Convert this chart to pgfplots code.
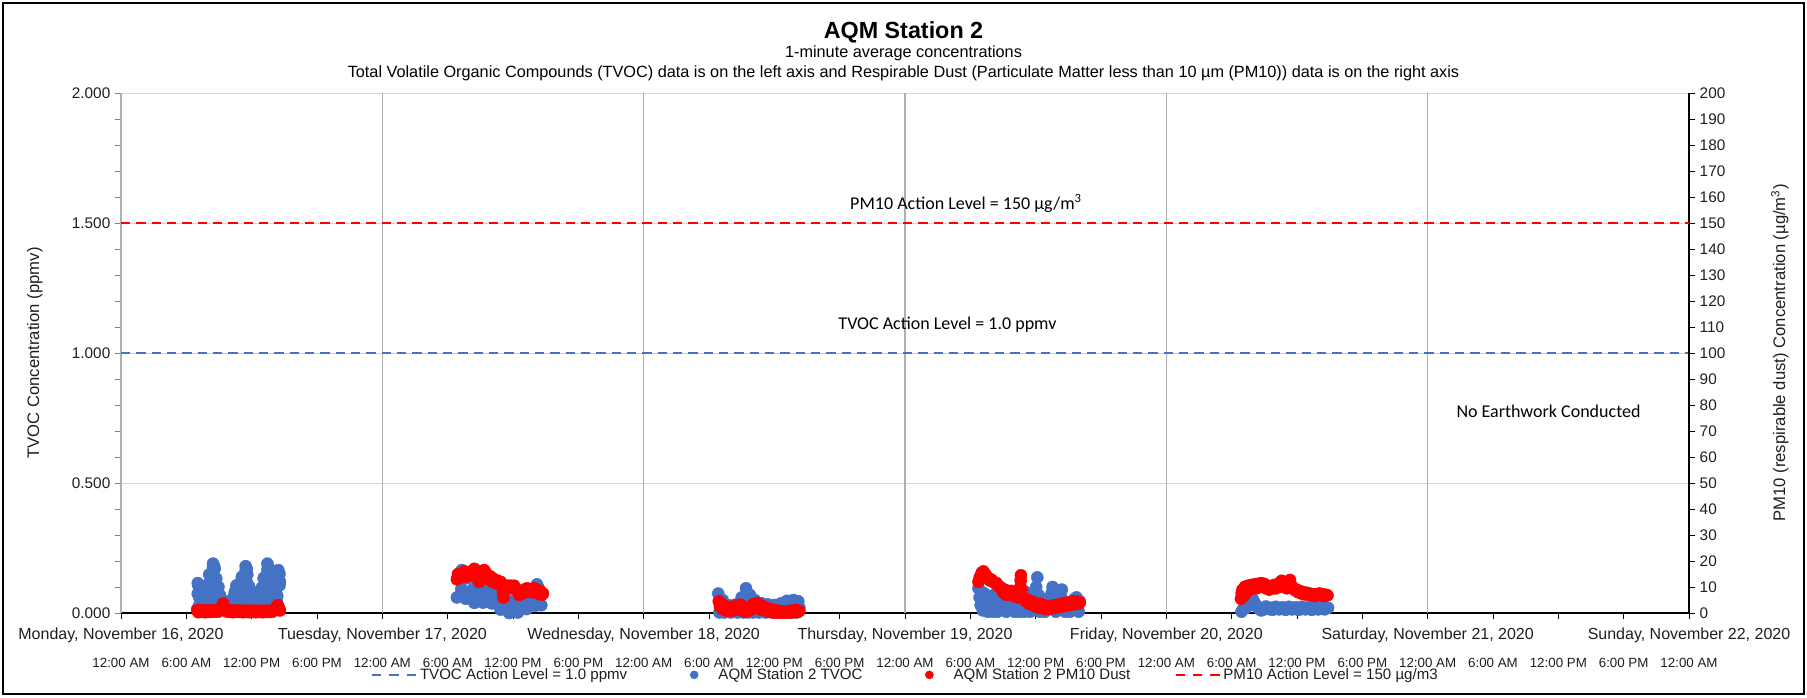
\documentclass[border=0pt]{standalone}
\usepackage{fontspec}
\setmainfont{Liberation Sans}
\newfontfamily\calibri{Carlito}
\usepackage{pgfplots}
\pgfplotsset{compat=1.18}
\pgfplotsset{/pgf/number format/assume math mode=true}
\definecolor{tvoc}{RGB}{68,114,196}
\definecolor{pmred}{RGB}{255,0,0}
\definecolor{gridv}{RGB}{175,175,175}
\definecolor{gridh}{RGB}{215,215,215}
\definecolor{ticktext}{RGB}{30,30,30}
\pgfplotsset{
  tvocline/.style={color=tvoc, line width=1.8pt, dash pattern=on 7pt off 4.5pt,
    legend image code/.code={\path (0pt,0pt) (34pt,0pt); \draw[tvoc, line width=1.8pt, dash pattern=on 7pt off 6pt] (0pt,0pt) -- (33pt,0pt);}},
  pmline/.style={color=pmred, line width=1.8pt, dash pattern=on 7pt off 4.5pt,
    legend image code/.code={\path (0pt,0pt) (34pt,0pt); \draw[pmred, line width=1.8pt, dash pattern=on 7pt off 6pt] (0pt,0pt) -- (33pt,0pt);}},
  tvocmark/.style={only marks, mark=*, mark size=4.5pt, color=tvoc, mark options={draw=tvoc, fill=tvoc},
    legend image code/.code={\path (0pt,0pt) (34pt,0pt); \fill[tvoc] (17pt,0pt) circle (3pt);}},
  pmmark/.style={only marks, mark=*, mark size=4.5pt, color=pmred, mark options={draw=pmred, fill=pmred},
    legend image code/.code={\path (0pt,0pt) (34pt,0pt); \fill[pmred] (17pt,0pt) circle (3pt);}},
}
\begin{document}
\begin{tikzpicture}
\path[use as bounding box] (-90.75pt,-63pt) rectangle (1264.5pt,459.75pt);
\draw[black, line width=0.9pt] (-88.5pt,-60.75pt) rectangle (1262.25pt,457.5pt);

\begin{axis}[
  at={(0pt,0pt)}, anchor=south west,
  scale only axis, width=1176pt, height=390pt,
  xmin=0, xmax=144, ymin=0, ymax=2,
  clip=false,
  axis x line*=bottom, axis y line*=left,
  x axis line style={black, line width=0.8pt},
  y axis line style={gray, line width=0.8pt},
  tick align=outside,
  major tick length=4.5pt, minor tick length=4.5pt,
  xtick style={black, line width=0.6pt},
  ytick style={gray, line width=0.6pt},
  ytick={0,0.5,1,1.5,2},
  yticklabels={0.000,0.500,1.000,1.500,2.000},
  minor y tick num=4,
  ymajorgrids=true,
  y grid style={gridh, line width=0.6pt},
  x grid style={gridv, line width=0.8pt},
  yticklabel style={font=\fontsize{11.5}{13}\selectfont, text=ticktext},
  xtick={0,6,...,144},
  xticklabels={12:00 AM,6:00 AM,12:00 PM,6:00 PM,12:00 AM,6:00 AM,12:00 PM,6:00 PM,12:00 AM,6:00 AM,12:00 PM,6:00 PM,12:00 AM,6:00 AM,12:00 PM,6:00 PM,12:00 AM,6:00 AM,12:00 PM,6:00 PM,12:00 AM,6:00 AM,12:00 PM,6:00 PM,12:00 AM},
  xticklabel style={font=\fontsize{10}{12}\selectfont, text=ticktext, anchor=base, yshift=-36pt},
  extra x ticks={0,24,48,72,96,120,144},
  extra x tick labels={{Monday, November 16, 2020},{Tuesday, November 17, 2020},{Wednesday, November 18, 2020},{Thursday, November 19, 2020},{Friday, November 20, 2020},{Saturday, November 21, 2020},{Sunday, November 22, 2020}},
  extra x tick style={grid=major, xticklabel style={font=\fontsize{12}{14}\selectfont, yshift=21pt}},
  ylabel={TVOC Concentration (ppmv)},
  ylabel style={at={(axis description cs:-0.055,0.5)}, anchor=center, font=\fontsize{12.5}{14}\selectfont, text=ticktext},
]
\addplot[tvocline] coordinates {(0,1) (144,1)};
% Monday TVOC
\addplot[tvocmark] coordinates {
(7.0,0.015)(7.05,0.115)(7.1,0.106)(7.2,0.058)(7.3,0.034)(7.4,0.061)(7.5,0.015)(7.6,0.072)(7.7,0.050)(7.8,0.036)(7.9,0.089)(8.0,0.015)(8.1,0.148)(8.2,0.090)(8.3,0.056)(8.4,0.142)(8.45,0.19)(8.5,0.015)(8.55,0.18)(8.6,0.170)(8.7,0.083)(8.8,0.043)(8.9,0.082)(9.0,0.015)(9.1,0.068)(9.2,0.036)(9.3,0.023)(9.4,0.035)(9.5,0.015)(9.6,0.033)(9.7,0.023)(9.8,0.019)(9.9,0.031)(10.0,0.015)(10.1,0.048)(10.2,0.036)(10.3,0.028)(10.4,0.067)(10.5,0.015)(10.6,0.106)(10.7,0.064)(10.8,0.041)(10.9,0.094)(11.0,0.015)(11.1,0.139)(11.2,0.084)(11.3,0.052)(11.4,0.133)(11.45,0.18)(11.5,0.015)(11.55,0.17)(11.6,0.148)(11.7,0.066)(11.8,0.035)(11.9,0.068)(12.0,0.015)(12.1,0.073)(12.2,0.043)(12.3,0.029)(12.4,0.059)(12.5,0.015)(12.6,0.081)(12.7,0.051)(12.8,0.035)(12.9,0.080)(13.0,0.015)(13.1,0.134)(13.2,0.087)(13.3,0.054)(13.4,0.136)(13.45,0.19)(13.5,0.015)(13.55,0.175)(13.6,0.152)(13.7,0.070)(13.8,0.038)(13.9,0.077)(14.0,0.015)(14.1,0.114)(14.2,0.077)(14.3,0.049)(14.4,0.121)(14.45,0.165)(14.5,0.015)(14.55,0.15)(14.6,0.12)
(7.05,0.074)(7.15,0.026)(7.25,0.091)(7.35,0.044)(7.45,0.073)(7.55,0.043)(7.65,0.022)(7.75,0.075)(7.85,0.046)(7.95,0.109)(8.05,0.087)(8.15,0.032)(8.25,0.147)(8.35,0.076)(8.45,0.176)(8.55,0.124)(8.65,0.034)(8.75,0.133)(8.85,0.057)(8.95,0.100)(9.05,0.056)(9.15,0.022)(9.25,0.051)(9.35,0.027)(9.45,0.040)(9.55,0.028)(9.65,0.017)(9.75,0.029)(9.85,0.021)(9.95,0.035)(10.05,0.031)(10.15,0.019)(10.25,0.051)(10.35,0.035)(10.45,0.081)(10.55,0.068)(10.65,0.026)(10.75,0.100)(10.85,0.053)(10.95,0.116)(11.05,0.084)(11.15,0.031)(11.25,0.136)(11.35,0.071)(11.45,0.164)(11.55,0.118)(11.65,0.032)(11.75,0.103)(11.85,0.045)(11.95,0.082)(12.05,0.053)(12.15,0.022)(12.25,0.064)(12.35,0.036)(12.45,0.070)(12.55,0.053)(12.65,0.023)(12.75,0.078)(12.85,0.045)(12.95,0.098)(13.05,0.074)(13.15,0.030)(13.25,0.140)(13.35,0.074)(13.45,0.168)(13.55,0.118)(13.65,0.032)(13.75,0.110)(13.85,0.049)(13.95,0.094)(14.05,0.062)(14.15,0.027)(14.25,0.123)(14.35,0.066)(14.45,0.149)(14.55,0.106)
};
% Tuesday TVOC
\addplot[tvocmark] coordinates {
(30.85,0.06)(31.05,0.148)(31.25,0.092)(31.3,0.165)(31.45,0.130)(31.5,0.16)(31.65,0.055)(31.85,0.135)(32.05,0.070)(32.25,0.090)(32.45,0.039)(32.65,0.100)(32.85,0.057)(33.05,0.078)(33.25,0.040)(33.45,0.096)(33.65,0.059)(33.85,0.080)(34.05,0.037)(34.25,0.085)(34.45,0.046)(34.65,0.054)(34.85,0.013)(35.05,0.052)(35.25,0.016)(35.45,0.031)(35.65,0.0)(35.85,0.046)(36.05,0.016)(36.25,0.033)(36.45,0.002)(36.65,0.053)(36.85,0.024)(37.05,0.042)(37.25,0.015)(37.45,0.067)(37.65,0.039)(37.85,0.068)(38.05,0.028)(38.2,0.11)(38.3,0.10)(38.35,0.06)(38.5,0.07)(38.6,0.03)
};
% Wednesday TVOC
\addplot[tvocmark] coordinates {
(54.85,0.075)(54.95,0.002)(55.1,0.032)(55.25,0.05)(55.4,0.002)(55.6,0.021)(55.8,0.03)(56.0,0.002)(56.2,0.016)(56.4,0.032)(56.6,0.002)(56.8,0.025)(57.0,0.06)(57.15,0.002)(57.3,0.044)(57.4,0.095)(57.5,0.065)(57.6,0.002)(57.75,0.07)(57.9,0.034)(58.05,0.002)(58.2,0.05)(58.4,0.025)(58.6,0.002)(58.8,0.038)(59.0,0.018)(59.2,0.002)(59.4,0.033)(59.6,0.016)(59.8,0.002)(60.0,0.031)(60.2,0.017)(60.4,0.002)(60.6,0.037)(60.8,0.02)(61.0,0.002)(61.15,0.047)(61.35,0.024)(61.55,0.002)(61.75,0.05)(61.9,0.026)(62.05,0.002)(62.2,0.045)(62.3,0.02)
};
% Thursday TVOC
\addplot[tvocmark] coordinates {
(78.75,0.095)(78.85,0.06)(78.95,0.03)(79.05,0.08)(79.15,0.01)(79.3,0.075)(79.45,0.04)(79.6,0.005)(79.75,0.065)(79.9,0.035)(80.05,0.005)(80.2,0.07)(80.35,0.045)(80.5,0.005)(80.65,0.095)(80.75,0.1)(80.85,0.05)(81.0,0.03)(81.15,0.07)(81.3,0.005)(81.45,0.08)(81.6,0.04)(81.75,0.02)(81.9,0.05)(82.05,0.005)(82.2,0.05)(82.35,0.028)(82.5,0.005)(82.65,0.058)(82.8,0.033)(82.95,0.005)(83.1,0.08)(83.2,0.065)(83.35,0.045)(83.5,0.005)(83.65,0.06)(83.8,0.035)(83.95,0.03)(84.05,0.1)(84.15,0.137)(84.25,0.07)(84.4,0.005)(84.55,0.055)(84.7,0.03)(84.85,0.005)(85.0,0.05)(85.15,0.03)(85.3,0.02)(85.45,0.075)(85.55,0.1)(85.7,0.05)(85.85,0.005)(86.0,0.065)(86.15,0.035)(86.3,0.07)(86.4,0.09)(86.55,0.045)(86.7,0.005)(86.85,0.04)(87.0,0.022)(87.15,0.005)(87.3,0.045)(87.45,0.028)(87.6,0.055)(87.75,0.06)(87.85,0.03)(87.95,0.005)(88.05,0.045)
};
% Friday TVOC
\addplot[tvocmark] coordinates {
(102.9,0.005)(103.05,0.015)(103.2,0.025)(103.35,0.02)(103.5,0.035)(103.65,0.04)(103.8,0.05)(103.95,0.052)(104.1,0.04)(104.25,0.03)(104.4,0.02)(104.55,0.015)(104.7,0.01)(104.85,0.012)(105.0,0.02)(105.15,0.025)(105.3,0.02)(105.45,0.015)(105.6,0.02)(105.75,0.012)(106.05,0.024)(106.35,0.014)(106.65,0.022)(106.95,0.012)(107.25,0.024)(107.55,0.014)(107.85,0.022)(108.15,0.012)(108.45,0.024)(108.75,0.014)(109.05,0.022)(109.35,0.012)(109.65,0.024)(109.95,0.014)(110.25,0.022)(110.55,0.014)(110.85,0.02)
};
\node[font=\calibri\fontsize{13.5}{16}\selectfont] at (axis cs:77.6,1.575) {PM10 Action Level = 150 µg/m\textsuperscript{3}};
\node[font=\calibri\fontsize{13.5}{16}\selectfont] at (axis cs:75.9,1.11) {TVOC Action Level = 1.0 ppmv};
\node[font=\calibri\fontsize{13.5}{16}\selectfont] at (axis cs:131.1,0.777) {No Earthwork Conducted};
\end{axis}

\begin{axis}[
  at={(0pt,0pt)}, anchor=south west,
  scale only axis, width=1176pt, height=390pt,
  xmin=0, xmax=144, ymin=0, ymax=200,
  clip=false,
  axis x line=none, axis y line*=right,
  y axis line style={black, line width=0.8pt},
  tick align=outside, major tick length=4.5pt,
  ytick style={black, line width=0.6pt},
  ytick={0,10,...,200},
  yticklabel style={font=\fontsize{11.5}{13}\selectfont, text=ticktext},
  ylabel={PM10 (respirable dust) Concentration (µg/m\textsuperscript{3})},
  ylabel style={at={(axis description cs:1.058,0.5)}, anchor=center, font=\fontsize{12.5}{14}\selectfont, text=ticktext},
  legend columns=4,
  legend style={at={(0.5,-0.119)}, anchor=center, draw=none, fill=none,
    font=\fontsize{11.3}{13}\selectfont, text=ticktext,
    /tikz/every even column/.append style={column sep=32pt},
    nodes={inner xsep=1pt}},
]
\addlegendimage{tvocline}
\addlegendentry{TVOC Action Level = 1.0 ppmv}
\addlegendimage{tvocmark}
\addlegendentry{AQM Station 2 TVOC}
% Monday PM10
\addplot[pmmark] coordinates {
(7.0,1.0)(7.1,0.3)(7.25,1.2)(7.4,0.5)(7.55,1.0)(7.7,0.3)(7.85,0.9)(8.0,0.4)(8.15,1.1)(8.3,0.4)(8.45,0.9)(8.6,0.5)(8.75,1.0)(8.9,0.5)(9.05,1.0)(9.2,1.5)(9.3,2.8)(9.38,3.6)(9.46,2.5)(9.55,1.2)(9.7,0.6)(9.85,1.0)(10.0,0.4)(10.15,0.9)(10.3,0.3)(10.45,0.9)(10.6,0.4)(10.75,1.0)(10.9,0.4)(11.05,0.9)(11.2,0.3)(11.35,0.8)(11.5,0.4)(11.65,0.9)(11.8,0.3)(11.95,0.8)(12.1,0.4)(12.25,0.9)(12.4,0.3)(12.55,0.8)(12.7,0.4)(12.85,0.9)(13.0,0.3)(13.15,0.8)(13.3,0.4)(13.45,0.9)(13.6,0.4)(13.75,0.8)(13.9,0.5)(14.05,1.0)(14.2,1.4)(14.3,2.4)(14.4,3.0)(14.5,2.0)(14.6,1.0)
};
\addlegendentry{AQM Station 2 PM10 Dust}
\addplot[pmline] coordinates {(0,150) (144,150)};
\addlegendentry{PM10 Action Level = 150 µg/m3}
% Tuesday PM10
\addplot[pmmark, forget plot] coordinates {
(30.85,13.0)(30.95,15.0)(31.1,13.5)(31.25,15.0)(31.4,14.0)(31.55,16.0)(31.7,14.0)(31.85,15.5)(32.0,14.5)(32.15,16.0)(32.3,15.0)(32.45,17.0)(32.6,14.5)(32.75,13.0)(32.9,12.0)(33.05,13.5)(33.2,15.0)(33.35,16.5)(33.5,15.5)(33.65,14.0)(33.8,13.0)(33.95,14.0)(34.1,12.0)(34.25,13.0)(34.4,11.5)(34.55,12.5)(34.7,11.0)(34.85,12.0)(35.0,10.5)(35.08,8.0)(35.12,6.0)(35.2,8.5)(35.35,9.5)(35.5,10.5)(35.65,9.5)(35.8,10.5)(35.95,9.5)(36.1,10.5)(36.25,9.0)(36.4,8.5)(36.55,7.0)(36.7,8.0)(36.85,7.5)(37.0,9.0)(37.15,8.0)(37.3,9.5)(37.45,8.5)(37.6,9.0)(37.75,8.0)(37.9,9.5)(38.05,8.0)(38.2,9.0)(38.35,7.5)(38.5,8.5)(38.65,7.0)(38.75,7.5)
};
% Wednesday PM10
\addplot[pmmark, forget plot] coordinates {
(54.9,4.5)(55.0,2.5)(55.1,3.8)(55.25,1.5)(55.4,2.8)(55.55,1.0)(55.7,2.4)(55.85,0.8)(56.0,2.2)(56.15,1.0)(56.3,2.5)(56.45,1.2)(56.6,3.0)(56.75,1.5)(56.9,3.2)(57.05,1.0)(57.2,2.0)(57.35,0.5)(57.5,1.5)(57.65,0.8)(57.8,2.5)(57.95,1.5)(58.1,3.5)(58.25,2.5)(58.4,3.8)(58.55,1.8)(58.7,3.0)(58.85,1.2)(59.0,2.5)(59.15,1.0)(59.3,2.0)(59.45,0.5)(59.6,1.5)(59.75,0.3)(59.9,1.2)(60.05,0.2)(60.2,1.0)(60.35,0.2)(60.5,0.8)(60.65,0.1)(60.8,0.6)(60.95,0.1)(61.1,0.5)(61.25,0.2)(61.4,0.8)(61.55,0.2)(61.7,1.0)(61.85,0.3)(62.0,1.2)(62.15,0.4)(62.3,0.8)
};
% Thursday PM10
\addplot[pmmark, forget plot] coordinates {
(78.75,12.0)(78.85,13.5)(78.95,14.5)(79.05,15.5)(79.2,16.0)(79.35,15.0)(79.5,14.0)(79.65,13.5)(79.8,12.5)(79.95,12.8)(80.1,12.0)(80.25,11.5)(80.4,11.5)(80.55,10.5)(80.7,10.0)(80.85,9.5)(81.0,8.0)(81.15,9.0)(81.3,7.0)(81.45,8.5)(81.6,7.0)(81.75,8.5)(81.9,7.5)(82.05,6.5)(82.2,7.5)(82.35,6.0)(82.5,7.0)(82.6,10.0)(82.62,12.5)(82.64,14.5)(82.7,9.0)(82.8,6.5)(82.95,5.5)(83.1,4.5)(83.25,5.0)(83.4,3.5)(83.55,4.5)(83.7,3.0)(83.85,4.0)(84.0,2.5)(84.15,3.5)(84.3,2.0)(84.45,3.5)(84.6,2.0)(84.75,3.0)(84.9,1.5)(85.05,2.5)(85.2,1.5)(85.35,2.5)(85.5,1.8)(85.65,3.0)(85.8,2.0)(85.95,3.0)(86.1,2.2)(86.25,3.5)(86.4,2.5)(86.55,3.8)(86.7,2.8)(86.85,4.0)(87.0,3.0)(87.15,4.0)(87.3,3.2)(87.45,4.5)(87.6,3.5)(87.75,4.5)(87.9,3.5)(88.05,4.0)
};
% Friday PM10
\addplot[pmmark, forget plot] coordinates {
(102.85,5.5)(102.92,7.6)(103.0,9.0)(103.1,6.5)(103.22,10.1)(103.35,8.0)(103.5,10.5)(103.65,9.0)(103.8,10.8)(103.95,9.5)(104.1,11.0)(104.25,9.5)(104.4,11.2)(104.55,10.0)(104.7,11.5)(104.85,10.0)(105.0,11.2)(105.15,9.5)(105.3,10.5)(105.45,9.0)(105.6,10.0)(105.75,9.5)(105.9,10.8)(106.05,9.5)(106.2,11.0)(106.35,10.0)(106.5,12.0)(106.6,12.4)(106.75,10.5)(106.9,11.0)(107.05,9.5)(107.2,11.5)(107.36,12.7)(107.5,10.5)(107.65,9.5)(107.8,8.8)(107.95,9.0)(108.1,8.0)(108.25,8.5)(108.4,7.5)(108.55,8.0)(108.7,7.2)(108.85,7.8)(109.0,7.0)(109.15,7.5)(109.3,6.8)(109.45,7.2)(109.6,6.5)(109.75,7.2)(109.9,6.8)(110.05,7.5)(110.2,6.8)(110.35,7.2)(110.5,6.5)(110.65,7.0)(110.8,6.8)
};
\end{axis}

\node[font=\fontsize{17.5}{20}\selectfont\bfseries] at (586.875pt,435.5pt) {AQM Station 2};
\node[font=\fontsize{12.2}{14}\selectfont] at (586.875pt,419.5pt) {1-minute average concentrations};
\node[font=\fontsize{12.2}{14}\selectfont] at (586.875pt,404.5pt) {Total Volatile Organic Compounds (TVOC) data is on the left axis and Respirable Dust (Particulate Matter less than 10 µm (PM10)) data is on the right axis};
\end{tikzpicture}
\end{document}
